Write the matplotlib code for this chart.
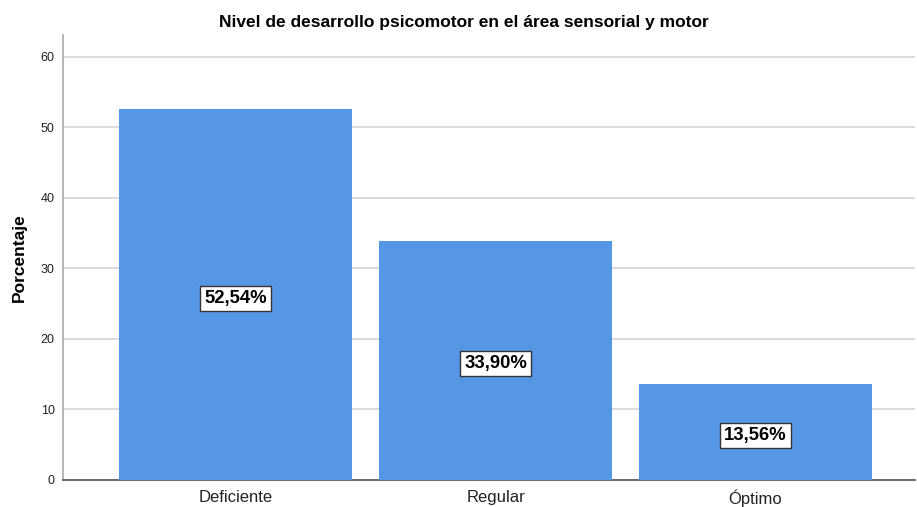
import matplotlib
matplotlib.use("Agg")
import matplotlib.pyplot as plt

plt.rcParams['font.family'] = ['Liberation Sans', 'DejaVu Sans']

categories = ["Deficiente", "Regular", "Óptimo"]
values = [52.54, 33.90, 13.56]
labels = ["52,54%", "33,90%", "13,56%"]
yticks = [0, 10, 20, 30, 40, 50, 60]

fig = plt.figure(figsize=(9.17, 5.07), dpi=100)
ax = fig.add_axes([63/917, 27/507, (915-63)/917, (480-35)/507])

x = list(range(len(categories)))
ax.bar(x, values, width=0.896, color="#5596E5", zorder=3)
for xi, v, lab in zip(x, values, labels):
    ax.annotate(lab, xy=(xi, v/2), xytext=(0, -2.5), textcoords="offset points",
                ha="center", va="center", fontsize=13.3, fontweight="bold", zorder=4,
                bbox=dict(boxstyle="square,pad=0.22", facecolor="white", edgecolor="#333333", linewidth=1))

ax.set_xlim(-0.663, 2.613)
ax.set_ylim(0, 63.1)
ax.set_yticks(yticks)
ax.set_yticklabels([str(t) for t in yticks], fontsize=9, color="#222222")
ax.set_xticks(x)
ax.set_xticklabels(categories, fontsize=12, color="#222222")
ax.tick_params(axis="y", length=0, pad=6)
ax.tick_params(axis="x", length=0, pad=7)
ax.yaxis.grid(True, color="#d4d4d4", linewidth=1.2, zorder=0)
ax.set_axisbelow(True)
for s in ["top", "right"]:
    ax.spines[s].set_visible(False)
ax.spines["left"].set_color("#aaaaaa")
ax.spines["left"].set_linewidth(1.2)
ax.spines["bottom"].set_color("#555555")
ax.spines["bottom"].set_linewidth(1.2)
ax.set_ylabel("Porcentaje", fontsize=12.5, fontweight="bold", labelpad=10)
fig.text(464/917, 1-22/507, "Nivel de desarrollo psicomotor en el área sensorial y motor",
         ha="center", va="center", fontsize=12.5, fontweight="bold")

fig.savefig("out.png", dpi=100)
